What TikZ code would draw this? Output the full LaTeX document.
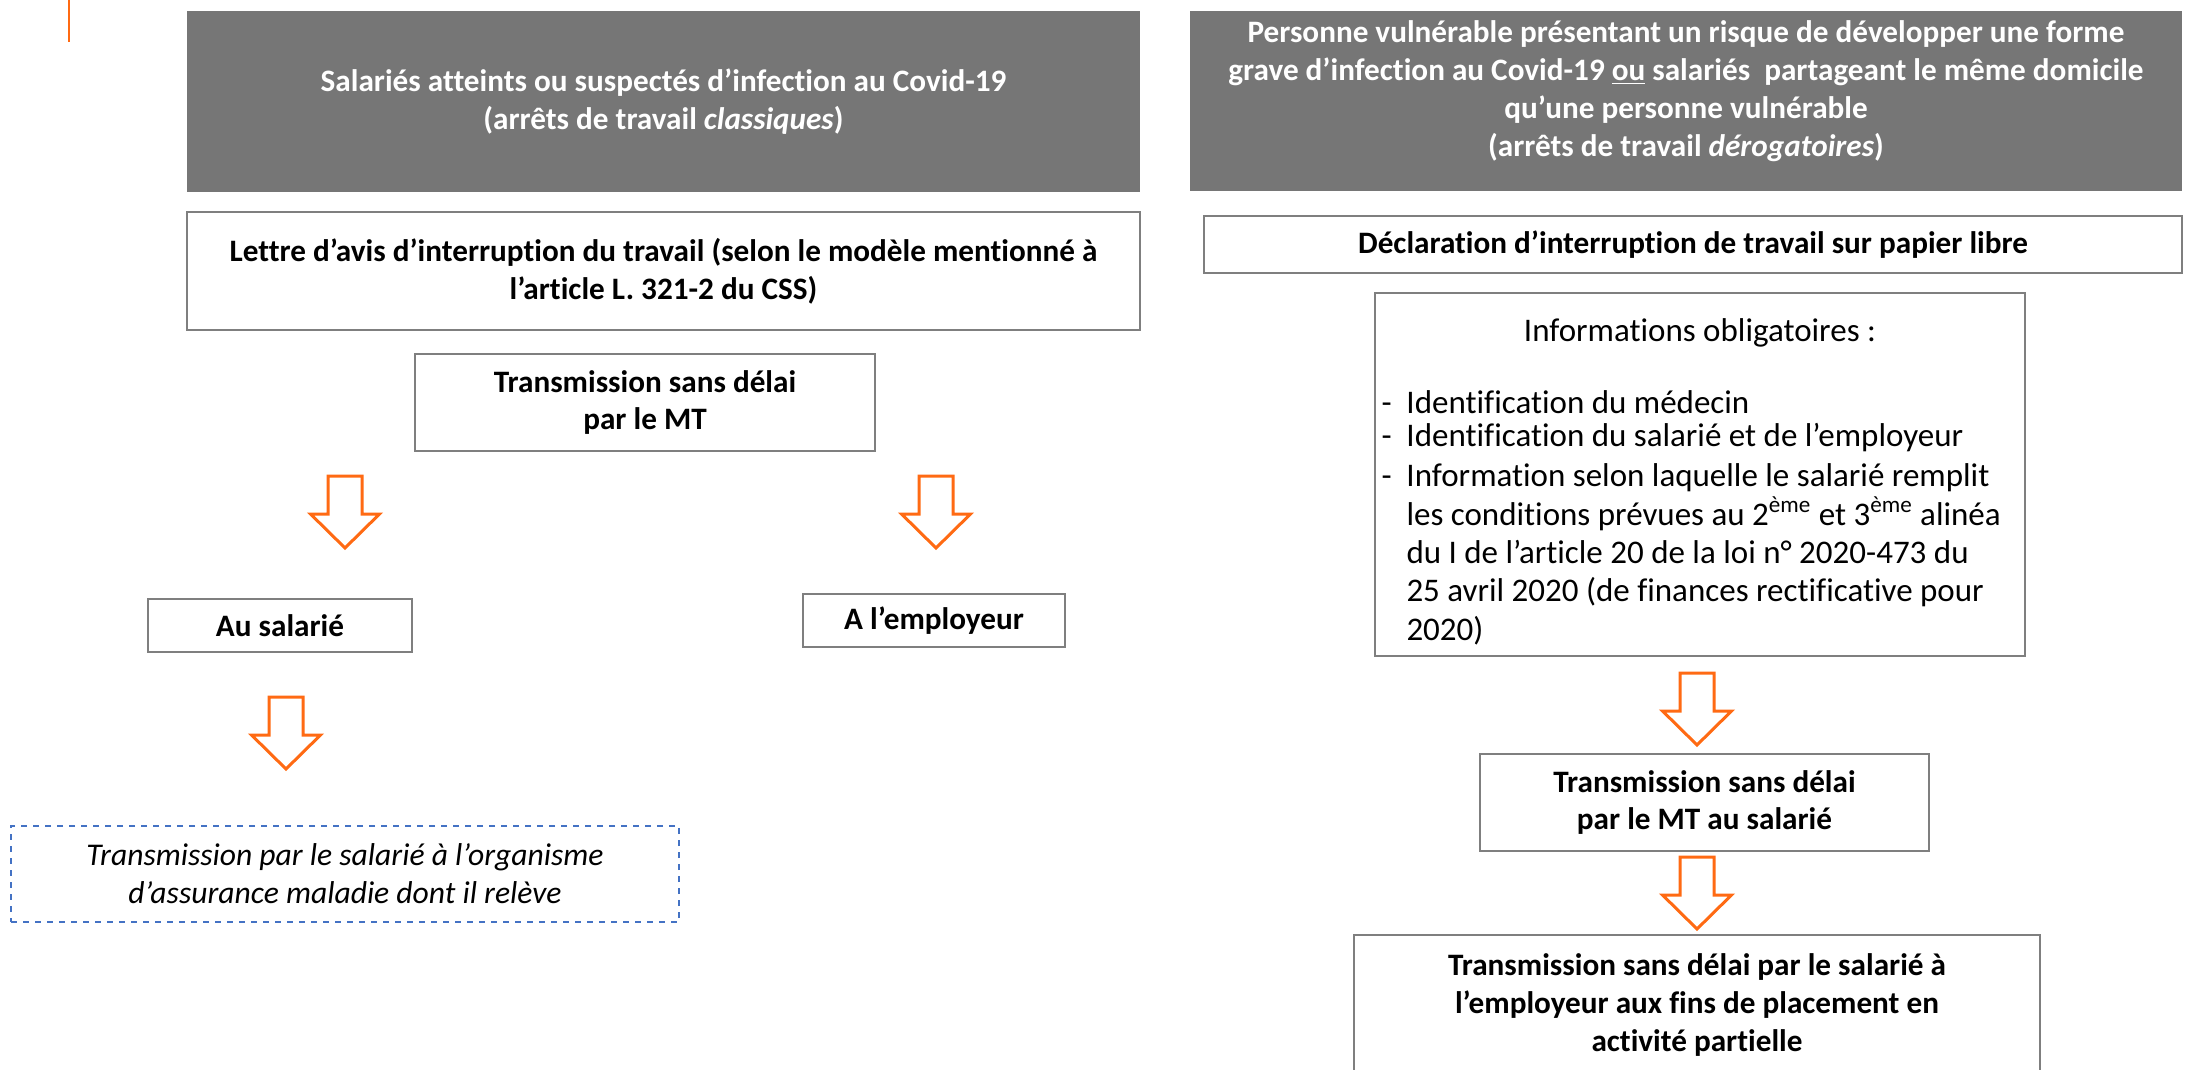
\documentclass[tikz,border=0pt]{standalone}
\usepackage{fontspec}
\setmainfont{Carlito}[Ligatures=NoCommon]
\usepackage{xcolor}
\usetikzlibrary{positioning}

\definecolor{gristitre}{RGB}{118,118,118}
\definecolor{bordgris}{RGB}{127,127,127}
\definecolor{orangefl}{RGB}{255,106,19}
\definecolor{bleupt}{RGB}{68,114,196}

\begin{document}
\begin{tikzpicture}[x=0.5pt,y=-0.5pt,
    titre/.style={fill=gristitre, text=white,
      font=\bfseries\fontsize{15.6}{18.9}\selectfont, align=center, inner sep=0pt},
    cadre/.style={draw=bordgris, line width=1pt, fill=white,
      font=\bfseries\fontsize{15.6}{18.9}\selectfont, align=center, inner sep=0pt},
    cadrepointille/.style={draw=bleupt, line width=1pt, dashed,
      font=\itshape\fontsize{15.8}{18.9}\selectfont, align=center, inner sep=0pt},
    fleche/.style={draw=orangefl, line width=1.5pt, line join=miter}]
  \useasboundingbox (0,0) rectangle (2185,1070);
  \def\flechebas#1{
    \draw[fleche] (#1) ++(-17,0) -- ++(34,0) -- ++(0,38) -- ++(17.5,0)
      -- ++(-34.5,34) -- ++(-34.5,-34) -- ++(17.5,0) -- cycle;}

  % trait orange
  \draw[orangefl, line width=1pt] (69,0) -- (69,42);

  % colonne de gauche
  \node[titre, minimum width=476.5pt, minimum height=90.5pt] (titreA) at (663.5,101.5)
    {Salariés atteints ou suspectés d’infection au Covid-19\\(arrêts de travail \textit{classiques})};
  \node[cadre, minimum width=476.5pt, minimum height=59pt] (lettre) at (663.5,271)
    {Lettre d’avis d’interruption du travail (selon le modèle mentionné à\\l’article L. 321-2 du CSS)};
  \node[cadre, minimum width=230pt, minimum height=48.5pt] (transMT) at (645,402.5)
    {Transmission sans délai\\par le MT};
  \node[cadre, minimum width=132pt, minimum height=26.5pt] (auSal) at (280,625.5) {Au salarié};
  \node[cadre, minimum width=131pt, minimum height=26.5pt] (employeur) at (934,620.5) {A l’employeur};
  \node[cadrepointille, minimum width=334pt, minimum height=48pt] (organisme) at (345,874)
    {Transmission par le salarié à l’organisme\\d’assurance maladie dont il relève};

  \coordinate (fA) at (345,476);
  \coordinate (fB) at (936,476);
  \coordinate (fC) at (286,697);
  \flechebas{fA}
  \flechebas{fB}
  \flechebas{fC}

  % colonne de droite
  \fill[gristitre] (1190,11) rectangle (2182,191);
  \node[titre, fill=none] (titreB) at (1686,91)
    {Personne vulnérable présentant un risque de développer une forme\\
     grave d’infection au Covid-19 \underline{ou} salariés\ \ partageant le même domicile\\
     qu’une personne vulnérable\\(arrêts de travail \textit{dérogatoires})};
  \node[cadre, minimum width=489pt, minimum height=28.5pt] (declaration) at (1693,244.5)
    {Déclaration d’interruption de travail sur papier libre};
  \node[cadre, font=\fontsize{16.5}{19.2}\selectfont, minimum width=325pt, minimum height=181.5pt] (infos) at (1700,474.5)
    {\rule{0pt}{22pt}Informations obligatoires :\\[19pt]
     \begin{tabular}{@{}p{12.5pt}@{}p{306pt}@{}}
       - & Identification du médecin\\[-3pt]
       - & Identification du salarié et de l’employeur\\[1pt]
       - & Information selon laquelle le salarié remplit\newline
           les conditions prévues au 2\textsuperscript{ème} et 3\textsuperscript{ème} alinéa\newline
           du I de l’article 20 de la loi n° 2020-473 du\newline
           25 avril 2020 (de finances rectificative pour\newline
           2020)
     \end{tabular}};
  \node[cadre, minimum width=224.5pt, minimum height=48.5pt] (transSal) at (1704.5,802.5)
    {Transmission sans délai\\par le MT au salarié};
  \node[cadre, minimum width=343pt, minimum height=70pt] (final) at (1697,1005)
    {Transmission sans délai par le salarié à\\l’employeur aux fins de placement en\\activité partielle};

  \coordinate (fD) at (1697,673);
  \coordinate (fE) at (1697,857);
  \flechebas{fD}
  \flechebas{fE}
\end{tikzpicture}
\end{document}
